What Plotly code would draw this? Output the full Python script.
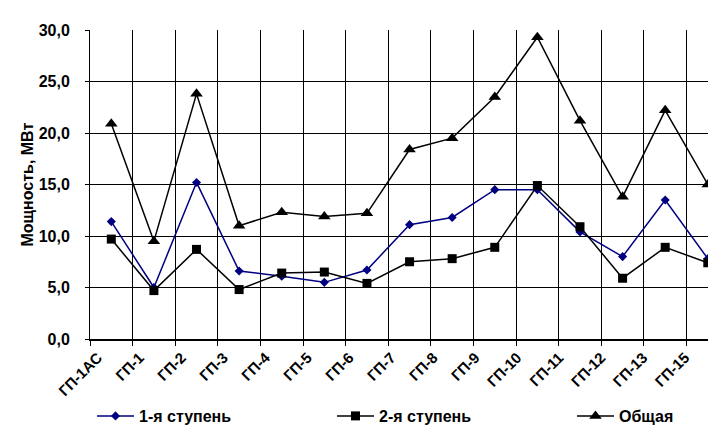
import numpy as np
import plotly.graph_objects as go

categories = ["ГП-1АС", "ГП-1", "ГП-2", "ГП-3", "ГП-4", "ГП-5", "ГП-6", "ГП-7",
              "ГП-8", "ГП-9", "ГП-10", "ГП-11", "ГП-12", "ГП-13", "ГП-15"]
stage1 = [11.4, 5.0, 15.2, 6.6, 6.1, 5.5, 6.7, 11.1, 11.8, 14.5, 14.5, 10.4, 8.0, 13.5, 7.8]
stage2 = [9.7, 4.7, 8.7, 4.8, 6.4, 6.5, 5.4, 7.5, 7.8, 8.9, 14.9, 10.9, 5.9, 8.9, 7.4]
total = [20.9, 9.5, 23.8, 11.0, 12.3, 11.9, 12.2, 18.4, 19.5, 23.5, 29.3, 21.2, 13.8, 22.2, 15.0]
series_names = ["1-я ступень", "2-я ступень", "Общая"]
y_title = "Мощность, МВт"

FONT = "Arial, Liberation Sans, sans-serif"
FS = 16
idx = np.arange(len(categories))

# layout geometry
W, H = 716, 425
PAPER_L = 72          # left edge of the paper plot area
AXIS_L = 82           # left edge of the main x axis (y axis line)
xr = [-0.5, 14.38]
k = (W - AXIS_L) / (xr[1] - xr[0])           # px per category
label_shift = 0.55                            # labels sit left of category centre
a2 = (label_shift + xr[0]) - (AXIS_L - PAPER_L) / k
xr2 = [a2, a2 + (W - PAPER_L) / k]

fig = go.Figure()
fig.add_trace(go.Scatter(x=idx, y=stage1, name=series_names[0], mode="lines+markers",
                         line=dict(color="#000080", width=1.5),
                         marker=dict(symbol="diamond", size=7, color="#000080")))
fig.add_trace(go.Scatter(x=idx, y=stage2, name=series_names[1], mode="lines+markers",
                         line=dict(color="#000000", width=1.5),
                         marker=dict(symbol="square", size=9, color="#000000")))
fig.add_trace(go.Scatter(x=idx, y=total, name=series_names[2], mode="lines+markers",
                         legendwidth=60,
                         line=dict(color="#000000", width=1.5),
                         marker=dict(symbol="triangle-up", size=11, color="#000000")))
# invisible trace to activate the label axis
fig.add_trace(go.Scatter(x=idx, y=total, xaxis="x2", mode="none", showlegend=False,
                         hoverinfo="skip"))

boundaries = list(np.arange(len(categories) + 1) - 0.5)

fig.update_layout(
    width=W, height=H,
    margin=dict(l=PAPER_L, r=0, t=22, b=94),
    paper_bgcolor="white", plot_bgcolor="white",
    separators=", ",
    font=dict(family=FONT, size=FS, color="black"),
    showlegend=True,
    legend=dict(orientation="h", xref="container", yref="container",
                x=84 / W, y=17 / H, xanchor="left", yanchor="middle",
                itemwidth=37,
                entrywidth=188, entrywidthmode="pixels",
                font=dict(family=FONT, size=FS, color="black", weight="bold"),
                bgcolor="rgba(0,0,0,0)"),
    xaxis=dict(domain=[(AXIS_L - PAPER_L) / (W - PAPER_L), 1],
               range=xr, tickmode="array", tickvals=boundaries,
               ticktext=[""] * len(boundaries),
               showgrid=True, gridcolor="black", gridwidth=1,
               ticks="outside", ticklen=5, tickcolor="black", tickwidth=1,
               showline=True, linecolor="black", linewidth=2, zeroline=False),
    xaxis2=dict(domain=[0, 1], anchor="y", range=xr2, overlaying="x", side="bottom",
                tickmode="array", tickvals=list(idx), ticktext=categories, tickangle=-45,
                showgrid=False, ticks="", showline=False, zeroline=False,
                ticklabelstandoff=6,
                tickfont=dict(family=FONT, size=15, color="black", weight="bold")),
    yaxis=dict(range=[0, 30], dtick=5, tickformat=".1f", anchor="x",
               showgrid=True, gridcolor="black", gridwidth=1,
               ticks="outside", ticklen=4, tickcolor="black",
               showline=True, linecolor="black", linewidth=1, zeroline=False,
               ticklabelstandoff=12,
               tickfont=dict(family=FONT, size=FS, color="black", weight="bold")),
    annotations=[dict(text=y_title, textangle=-90, showarrow=False,
                      xref="paper", yref="paper",
                      x=(19 - PAPER_L) / (W - PAPER_L), y=0.5,
                      xanchor="center", yanchor="middle",
                      font=dict(family=FONT, size=FS, color="black", weight="bold"))],
)

fig.write_html("out.html")
